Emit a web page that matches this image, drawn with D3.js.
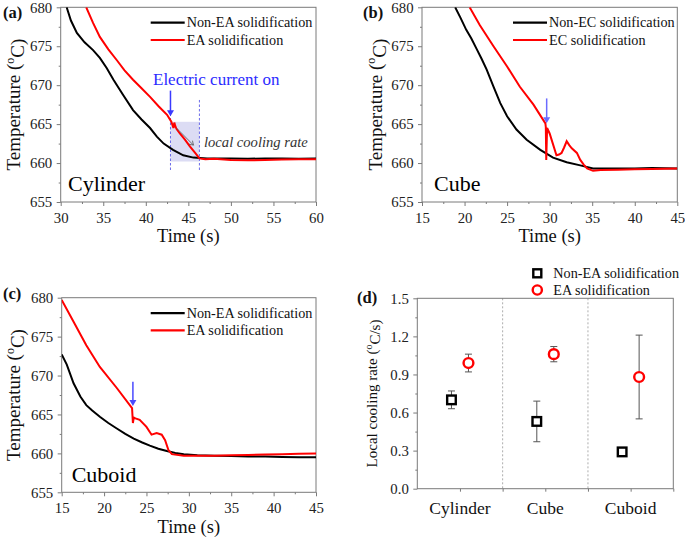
<!DOCTYPE html>
<html><head><meta charset="utf-8">
<script src="https://cdn.jsdelivr.net/npm/d3@7"></script>
<style>body{margin:0;background:#fff}svg{display:block}svg text{font-family:"Liberation Serif","Times New Roman","Tinos","DejaVu Serif","Noto Serif",serif !important}</style>
</head><body>
<svg id="c" width="685" height="538"></svg>
<script>
// ---------- DATA ----------
const aBlackT = [30.7,31.2,31.9,32.8,33.8,34.6,35.4,36.2,37.3,38.5,39.5,40.5,41.3,42.1,43.2,44.4,45.6,47.2,48,50,52,54,56,58,60];
const aBlackV = [680,678.3,676.7,675.5,674.5,673.5,672.2,670.7,668.8,666.8,665.6,664.5,663.4,662.5,661.7,661.0,660.7,660.6,660.6,660.6,660.55,660.6,660.6,660.55,660.6];
const aRedT = [33.0,33.8,34.6,35.6,36.6,37.5,38.5,39.5,40.5,41.5,42.5,43.0,43.25,43.35,43.45,43.6,44.0,44.6,45.2,45.8,46.3,47,48,50,52,54,56,58,60];
const aRedV = [680,678.0,676.2,674.6,673.2,671.9,670.7,669.6,668.5,667.3,666.2,665.3,664.5,665.2,664.8,664.4,663.8,663.0,662.1,661.3,660.6,660.5,660.55,660.4,660.35,660.4,660.45,660.5,660.5];

const bBlackT = [18.9,19.5,20.2,20.8,21.4,22.0,22.6,23.0,23.4,24.2,25.0,26.1,27.3,28.9,30.4,32.0,33.6,35.1,37,40,42,45];
const bBlackV = [680,678.7,677.1,676,674.7,673.4,672,670.9,669.8,667.7,666,664.3,663,661.7,660.7,660.1,659.7,659.3,659.3,659.3,659.35,659.3];
const bRedT = [20.6,21.8,23.4,25.0,26.5,28.1,29.5,29.55,29.6,29.7,30.0,30.4,30.8,31.1,31.4,31.7,32.0,32.3,32.6,33.2,33.6,34.0,34.4,35.1,36,38,40,42,45];
const bRedV = [680,677.7,675,672.4,669.8,667.5,665.1,664.6,660.4,664.5,663.8,662.4,661.0,661.1,661.3,662.0,662.8,662.3,661.9,661.3,660.4,659.8,659.3,659.0,659.1,659.15,659.2,659.25,659.3];

const cBlackT = [15,15.6,16.4,17.2,17.9,18.6,19.5,20.5,21.5,22.5,23.5,24.5,25.4,26.4,27.4,28.4,29.4,31,33,35,37,39,41,43,45];
const cBlackV = [672.7,671.4,669,667.3,666.2,665.5,664.7,663.9,663.2,662.5,661.9,661.4,661,660.6,660.3,660.05,659.9,659.75,659.7,659.65,659.6,659.6,659.55,659.5,659.5];
const cRedT = [15,16.4,17.9,19.5,21.5,23.3,23.4,23.5,23.7,24.2,25,25.6,26.2,26.8,27.2,27.6,28,29.4,31,33,35,37,39,41,43,45];
const cRedV = [679.7,676.9,673.9,671.1,668.4,665.8,663.9,664.6,664.5,664.3,663.4,662.4,662.6,662.4,661.7,660.4,659.9,659.7,659.7,659.7,659.75,659.8,659.85,659.9,659.95,660.0];

const shapes = ["Cylinder","Cube","Cuboid"];
const nonEA = [0.70,0.53,0.29];
const nonEAErr = [0.07,0.16,0.015];
const EA = [0.99,1.06,0.88];
const EAErr = [0.07,0.06,0.33];
const tempTicks = [655,660,665,670,675,680];
const rateTicks = [0.0,0.3,0.6,0.9,1.2,1.5];

// ---------- DRAW ----------
const FONT = '"Liberation Serif","Times New Roman","Tinos","DejaVu Serif","Noto Serif",serif';
const svg = d3.select("#c");
const AX = "#7a7a7a";

function txt(g){ return g.append("text").style("font-family",FONT); }

function frame(g, L, R, T, B){
  g.append("rect").attr("x",L).attr("y",T).attr("width",R-L).attr("height",B-T)
   .attr("fill","none").attr("stroke",AX).attr("stroke-width",1);
}

function tempPanel(o){
  const g = svg.append("g");
  const x = d3.scaleLinear().domain(o.xd).range([o.L,o.R]);
  const y = d3.scaleLinear().domain([655,680]).range([o.B,o.T]);
  const clip = "clip"+o.id;
  g.append("clipPath").attr("id",clip).append("rect").attr("x",o.L).attr("y",o.T).attr("width",o.R-o.L).attr("height",o.B-o.T);
  const xt = d3.range(o.xd[0],o.xd[1]+0.01,5);
  const xm = d3.range(o.xd[0]+2.5,o.xd[1],5);
  const ym = d3.range(657.5,680,5);
  const ax = g.append("g").attr("transform",`translate(0,${o.B})`)
    .call(d3.axisBottom(x).tickValues(xt).tickSize(4).tickFormat(d3.format("d")));
  ax.append("g").call(d3.axisBottom(x).tickValues(xm).tickSize(2).tickFormat(""));
  const ay = g.append("g").attr("transform",`translate(${o.L},0)`)
    .call(d3.axisLeft(y).tickValues(tempTicks).tickSize(4).tickFormat(d3.format("d")));
  ay.append("g").call(d3.axisLeft(y).tickValues(ym).tickSize(2).tickFormat(""));
  [ax,ay].forEach(a=>{a.attr("font-family",FONT);a.selectAll(".domain").remove();a.selectAll("line").attr("stroke",AX);
    a.selectAll("text").attr("font-size","14.8px").attr("fill","#222").style("font-family",FONT);});
  ax.selectAll("text").attr("dy","0.95em");
  ay.selectAll("text").attr("dx","-0.1em");
  frame(g,o.L,o.R,o.T,o.B);

  const pg = g.append("g").attr("clip-path",`url(#${clip})`);
  if(o.extra) o.extra(pg,x,y);
  const line = d3.line().x(d=>x(d[0])).y(d=>y(d[1]));
  pg.append("path").datum(d3.zip(o.bt,o.bv)).attr("d",line).attr("fill","none").attr("stroke","#000").attr("stroke-width",2);
  pg.append("path").datum(d3.zip(o.rt,o.rv)).attr("d",line).attr("fill","none").attr("stroke","#f00").attr("stroke-width",2);
  if(o.arrow){
    const [at,v1,v2,col] = o.arrow;
    g.append("line").attr("x1",x(at)).attr("x2",x(at)).attr("y1",y(v1)).attr("y2",y(v2)-5).attr("stroke",col).attr("stroke-width",1.5);
    g.append("path").attr("d",`M${x(at)-3.5},${y(v2)-6}L${x(at)+3.5},${y(v2)-6}L${x(at)},${y(v2)}Z`).attr("fill",col);
  }
  const lx = o.legX;
  [[o.leg[0],"#000",22.7],[o.leg[1],"#f00",40]].forEach(([t,c,yy])=>{
    const yy2 = yy + o.T - 7.3;
    g.append("line").attr("x1",lx).attr("x2",lx+34).attr("y1",yy2).attr("y2",yy2).attr("stroke",c).attr("stroke-width",2.2);
    txt(g).attr("x",lx+36).attr("y",yy2).attr("dy","0.33em").attr("font-size","14.2px").attr("fill","#111").text(t);
  });
  txt(g).attr("x",o.nameX).attr("y",o.nameY).attr("font-size","22px").attr("fill","#000").text(o.name);
  const yt = txt(g).attr("transform",`translate(${o.ytX},${(o.T+o.B)/2}) rotate(-90)`)
    .attr("text-anchor","middle").attr("dy","0.35em").attr("font-size","19px").attr("fill","#111");
  yt.append("tspan").text("Temperature (");
  yt.append("tspan").attr("font-size","12px").attr("dy","-0.55em").text("o");
  yt.append("tspan").attr("dy","0.55em").text("C)");
  txt(g).attr("x",(o.L+o.R)/2).attr("y",o.B+34).attr("text-anchor","middle").attr("dy","0.35em")
    .attr("font-size","18.5px").attr("fill","#111").text("Time (s)");
  txt(g).attr("x",o.labX).attr("y",o.labY).attr("dy","0.35em").attr("font-size","16.5px").attr("font-weight","bold").attr("fill","#111").text(o.lab);
  return {g,x,y};
}

const pa = tempPanel({id:"a",L:60.7,R:316,T:7.3,B:202,xd:[30,60],bt:aBlackT,bv:aBlackV,rt:aRedT,rv:aRedV,
  leg:["Non-EA solidification","EA solidification"],legX:150.7,name:"Cylinder",nameX:68,nameY:191,
  ytX:13.5,lab:"(a)",labX:3,labY:12,arrow:[42.9,669.3,666.0,"#3a3aff"],
  extra:(pg,x,y)=>{
    pg.append("rect").attr("x",x(42.9)).attr("y",y(665.3)).attr("width",x(46.3)-x(42.9)).attr("height",y(660.2)-y(665.3)).attr("fill","#dcdcf4");
    [42.9,46.3].forEach(t=>pg.append("line").attr("x1",x(t)).attr("x2",x(t)).attr("y1",y(668.1)).attr("y2",y(658.9))
      .attr("stroke","#5a5ae6").attr("stroke-width",0.9).attr("stroke-dasharray","2.5,2"));
  }});
{
  const {g,x,y} = pa;
  txt(g).attr("x",153).attr("y",85).attr("font-size","17px").attr("fill","#2b2bff").text("Electric current on");
  g.append("line").attr("x1",x(43.6)).attr("y1",y(664.5)).attr("x2",x(45.6)).attr("y2",y(662.3)).attr("stroke","#555").attr("stroke-width",0.8);
  const ex=x(45.6), ey=y(662.3);
  g.append("path").attr("d",`M${ex-4.5},${ey-1}L${ex},${ey}L${ex-1},${ey-4.5}`).attr("fill","none").attr("stroke","#555").attr("stroke-width",0.8);
  txt(g).attr("x",204).attr("y",147).attr("font-size","14.6px").attr("font-style","italic").attr("fill","#333").text("local cooling rate");
}

tempPanel({id:"b",L:422,R:677.3,T:7.3,B:202,xd:[15,45],bt:bBlackT,bv:bBlackV,rt:bRedT,rv:bRedV,
  leg:["Non-EC solidification","EC solidification"],legX:513,name:"Cube",nameX:434,nameY:191,
  ytX:375,lab:"(b)",labX:363,labY:12,arrow:[29.65,668.3,665.1,"#6b6bff"]});

tempPanel({id:"c",L:61.7,R:316,T:297.7,B:492.3,xd:[15,45],bt:cBlackT,bv:cBlackV,rt:cRedT,rv:cRedV,
  leg:["Non-EA solidification","EA solidification"],legX:150.7,name:"Cuboid",nameX:71.7,nameY:482,
  ytX:13.5,lab:"(c)",labX:3,labY:293,arrow:[23.4,669.2,666.1,"#4a4aff"]});

// ---------- Panel d ----------
{
  const L=417.3,R=673.3,T=298.3,B=488.7;
  const g = svg.append("g");
  const xb = d3.scaleBand().domain(shapes).range([L,R]);
  const y = d3.scaleLinear().domain([0,1.5]).range([B,T]);
  const cx = s => xb(s)+xb.bandwidth()/2;
  const ay = g.append("g").attr("transform",`translate(${L},0)`)
    .call(d3.axisLeft(y).tickValues(rateTicks).tickSize(4).tickFormat(d3.format(".1f")));
  ay.append("g").call(d3.axisLeft(y).tickValues(d3.range(0.15,1.5,0.3)).tickSize(2).tickFormat(""));
  const xTickVals = [];
  shapes.forEach(s=>{xTickVals.push(xb(s)+xb.bandwidth()/2, xb(s)+xb.bandwidth());});
  const xl = d3.scaleLinear().domain([L,R]).range([L,R]);
  const ax = g.append("g").attr("transform",`translate(0,${B})`)
    .call(d3.axisBottom(xl).tickValues(xTickVals).tickSize(3).tickFormat(""));
  [ax,ay].forEach(a=>{a.attr("font-family",FONT);a.selectAll(".domain").remove();a.selectAll("line").attr("stroke",AX);
    a.selectAll("text").attr("font-size","14.8px").attr("fill","#222").style("font-family",FONT);});
  ay.selectAll("text").attr("dx","-0.1em");
  shapes.forEach(s=>txt(g).attr("x",cx(s)).attr("y",508).attr("text-anchor","middle").attr("dy","0.35em")
    .attr("font-size","17.5px").attr("fill","#111").text(s));
  shapes.slice(1).forEach(s=>g.append("line").attr("x1",xb(s)).attr("x2",xb(s)).attr("y1",T).attr("y2",B)
    .attr("stroke","#999").attr("stroke-width",0.8).attr("stroke-dasharray","2,2"));
  frame(g,L,R,T,B);
  const off = 8.5;
  function ebar(xx,v,e){
    g.append("line").attr("x1",xx).attr("x2",xx).attr("y1",y(v-e)).attr("y2",y(v+e)).attr("stroke","#555").attr("stroke-width",1);
    [v-e,v+e].forEach(w=>g.append("line").attr("x1",xx-3.5).attr("x2",xx+3.5).attr("y1",y(w)).attr("y2",y(w)).attr("stroke","#555").attr("stroke-width",1));
  }
  shapes.forEach((s,i)=>{
    ebar(cx(s)-off,nonEA[i],nonEAErr[i]);
    ebar(cx(s)+off,EA[i],EAErr[i]);
    g.append("rect").attr("x",cx(s)-off-4.3).attr("y",y(nonEA[i])-4.3).attr("width",8.6).attr("height",8.6)
      .attr("fill","#fff").attr("stroke","#000").attr("stroke-width",2.4);
    g.append("circle").attr("cx",cx(s)+off).attr("cy",y(EA[i])).attr("r",4.9)
      .attr("fill","#fff").attr("stroke","#f00").attr("stroke-width",2.4);
  });
  g.append("rect").attr("x",537.3-4).attr("y",273.3-4).attr("width",8).attr("height",8).attr("fill","#fff").attr("stroke","#000").attr("stroke-width",2.4);
  g.append("circle").attr("cx",537.3).attr("cy",290).attr("r",4.6).attr("fill","#fff").attr("stroke","#f00").attr("stroke-width",2.4);
  txt(g).attr("x",553.3).attr("y",273.3).attr("dy","0.33em").attr("font-size","14.2px").attr("fill","#111").text("Non-EA solidification");
  txt(g).attr("x",553.3).attr("y",290).attr("dy","0.33em").attr("font-size","14.2px").attr("fill","#111").text("EA solidification");
  const yt = txt(g).attr("transform",`translate(372,${(T+B)/2}) rotate(-90)`)
    .attr("text-anchor","middle").attr("dy","0.35em").attr("font-size","15px").attr("fill","#111");
  yt.append("tspan").text("Local cooling rate (");
  yt.append("tspan").attr("font-size","10px").attr("dy","-0.5em").text("o");
  yt.append("tspan").attr("dy","0.5em").text("C/s)");
  txt(g).attr("x",357).attr("y",297).attr("dy","0.35em").attr("font-size","16.5px").attr("font-weight","bold").attr("fill","#111").text("(d)");
}
</script>
</body></html>
